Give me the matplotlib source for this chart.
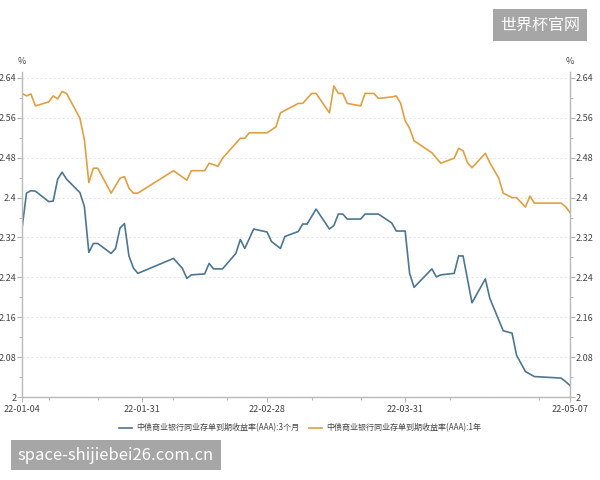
import numpy as np
import pandas as pd
import matplotlib
matplotlib.use("Agg")
import matplotlib.pyplot as plt
import matplotlib.dates as mdates
from matplotlib.ticker import FixedLocator, MultipleLocator

plt.rcParams['font.family'] = ['Noto Sans CJK SC', 'DejaVu Sans']

# 中债商业银行同业存单到期收益率(AAA):1年
dates_1y = ["2022-01-04", "2022-01-05", "2022-01-06", "2022-01-07", "2022-01-10", "2022-01-11",
            "2022-01-12", "2022-01-13", "2022-01-14", "2022-01-17", "2022-01-18", "2022-01-19",
            "2022-01-20", "2022-01-21", "2022-01-24", "2022-01-26", "2022-01-27", "2022-01-28",
            "2022-01-29", "2022-01-30", "2022-02-07", "2022-02-10", "2022-02-11", "2022-02-14",
            "2022-02-15", "2022-02-17", "2022-02-18", "2022-02-22", "2022-02-23", "2022-02-24",
            "2022-02-28", "2022-03-02", "2022-03-03", "2022-03-07", "2022-03-08", "2022-03-10",
            "2022-03-11", "2022-03-14", "2022-03-15", "2022-03-16", "2022-03-17", "2022-03-18",
            "2022-03-21", "2022-03-22", "2022-03-24", "2022-03-25", "2022-03-28", "2022-03-29",
            "2022-03-30", "2022-03-31", "2022-04-01", "2022-04-02", "2022-04-06", "2022-04-08",
            "2022-04-11", "2022-04-12", "2022-04-13", "2022-04-14", "2022-04-15", "2022-04-18",
            "2022-04-19", "2022-04-21", "2022-04-22", "2022-04-24", "2022-04-25", "2022-04-27",
            "2022-04-28", "2022-04-29", "2022-05-05", "2022-05-06", "2022-05-07"]
yield_1y = [2.609, 2.604, 2.608, 2.584, 2.592, 2.604,
            2.598, 2.613, 2.609, 2.559, 2.516, 2.430,
            2.459, 2.459, 2.409, 2.439, 2.442, 2.419,
            2.409, 2.409, 2.454, 2.435, 2.454, 2.454,
            2.469, 2.463, 2.479, 2.519, 2.519, 2.530,
            2.530, 2.542, 2.570, 2.589, 2.589, 2.609,
            2.609, 2.570, 2.624, 2.609, 2.609, 2.589,
            2.584, 2.609, 2.609, 2.599, 2.602, 2.604,
            2.589, 2.554, 2.539, 2.514, 2.490, 2.469,
            2.479, 2.499, 2.494, 2.470, 2.460, 2.489,
            2.470, 2.439, 2.409, 2.400, 2.400, 2.381,
            2.403, 2.389, 2.389, 2.382, 2.370]

# 中债商业银行同业存单到期收益率(AAA):3个月
dates_3m = ["2022-01-04", "2022-01-05", "2022-01-06", "2022-01-07", "2022-01-10", "2022-01-11",
            "2022-01-12", "2022-01-13", "2022-01-14", "2022-01-17", "2022-01-18", "2022-01-19",
            "2022-01-20", "2022-01-21", "2022-01-24", "2022-01-25", "2022-01-26", "2022-01-27",
            "2022-01-28", "2022-01-29", "2022-01-30", "2022-02-07", "2022-02-09", "2022-02-10",
            "2022-02-11", "2022-02-14", "2022-02-15", "2022-02-16", "2022-02-18", "2022-02-21",
            "2022-02-22", "2022-02-23", "2022-02-25", "2022-02-28", "2022-03-01", "2022-03-03",
            "2022-03-04", "2022-03-07", "2022-03-08", "2022-03-09", "2022-03-11", "2022-03-14",
            "2022-03-15", "2022-03-16", "2022-03-17", "2022-03-18", "2022-03-21", "2022-03-22",
            "2022-03-25", "2022-03-28", "2022-03-29", "2022-03-31", "2022-04-01", "2022-04-02",
            "2022-04-06", "2022-04-07", "2022-04-08", "2022-04-11", "2022-04-12", "2022-04-13",
            "2022-04-15", "2022-04-18", "2022-04-19", "2022-04-22", "2022-04-24", "2022-04-25",
            "2022-04-27", "2022-04-29", "2022-05-05", "2022-05-06", "2022-05-07"]
yield_3m = [2.338, 2.409, 2.414, 2.413, 2.392, 2.393,
            2.437, 2.451, 2.437, 2.410, 2.382, 2.290,
            2.308, 2.308, 2.288, 2.298, 2.339, 2.348,
            2.283, 2.259, 2.248, 2.278, 2.258, 2.238,
            2.245, 2.247, 2.268, 2.257, 2.257, 2.288,
            2.316, 2.298, 2.337, 2.331, 2.312, 2.298,
            2.322, 2.332, 2.347, 2.347, 2.377, 2.337,
            2.344, 2.367, 2.367, 2.357, 2.357, 2.367,
            2.367, 2.349, 2.333, 2.333, 2.248, 2.220,
            2.257, 2.241, 2.245, 2.248, 2.283, 2.283,
            2.189, 2.237, 2.198, 2.133, 2.128, 2.084,
            2.051, 2.041, 2.038, 2.031, 2.023]

label_3m = "中债商业银行同业存单到期收益率(AAA):3个月"
label_1y = "中债商业银行同业存单到期收益率(AAA):1年"
major_dates = ["2022-01-04", "2022-01-31", "2022-02-28", "2022-03-31", "2022-05-07"]
minor_dates = ["2022-01-10", "2022-01-21", "2022-02-07", "2022-02-19",
               "2022-03-10", "2022-03-21", "2022-04-10", "2022-04-30"]
y_ticks = [2.0, 2.08, 2.16, 2.24, 2.32, 2.4, 2.48, 2.56, 2.64]
y_ticklabels = ["2", "2.08", "2.16", "2.24", "2.32", "2.4", "2.48", "2.56", "2.64"]

blue = "#4d7691"
orange = "#dfa043"
spine_c = "#b8b8b8"
text_c = "#444444"

fig = plt.figure(figsize=(6, 4.8), dpi=100)
ax = fig.add_axes([0.0367, 0.1729, 0.9133, 0.6771])

x3 = mdates.date2num(pd.to_datetime(dates_3m))
x1 = mdates.date2num(pd.to_datetime(dates_1y))
ax.plot(x3, yield_3m, color=blue, lw=1.2, label=label_3m)
ax.plot(x1, yield_1y, color=orange, lw=1.2, label=label_1y)

xmaj = mdates.date2num(pd.to_datetime(major_dates))
ax.set_xlim(xmaj[0], xmaj[-1])
ax.set_ylim(2.0, 2.652)

ax.xaxis.set_major_locator(FixedLocator(xmaj))
ax.set_xticklabels([d[2:] for d in major_dates])
ax.xaxis.set_minor_locator(FixedLocator(mdates.date2num(pd.to_datetime(minor_dates))))
ax.set_yticks(y_ticks)
ax.set_yticklabels(y_ticklabels)
ax.yaxis.set_minor_locator(MultipleLocator(0.04))

ax.tick_params(axis='both', which='both', colors=spine_c, labelcolor=text_c, labelsize=6.5, width=0.8)
ax.tick_params(axis='both', which='major', length=3.5)
ax.tick_params(axis='both', which='minor', length=2.5)
ax.tick_params(axis='y', which='both', left=True, right=True, labelleft=True, labelright=True, pad=0.5)
ax.tick_params(axis='x', pad=2)

for s in ['left', 'right', 'bottom']:
    ax.spines[s].set_color(spine_c)
    ax.spines[s].set_linewidth(1.0)
ax.spines['top'].set_visible(False)

ax.grid(axis='y', which='major', color='#e8e8e8', lw=0.8, ls=(0, (2, 2)))
ax.set_axisbelow(True)

fig.text(22 / 600, 1 - 61 / 480, "%", fontsize=6.5, color=text_c, ha='center', va='center')
fig.text(570 / 600, 1 - 61 / 480, "%", fontsize=6.5, color=text_c, ha='center', va='center')

fig.legend(loc='center', bbox_to_anchor=(0.5, 1 - 428 / 480), ncol=2, frameon=False,
           fontsize=5.8, handlelength=1.6, columnspacing=1.2, labelcolor=text_c, handletextpad=0.5)

fig.text(0.9, 1 - 25 / 480, "世界杯官网", fontsize=11.5, color='white', ha='center', va='center',
         bbox=dict(boxstyle='square,pad=0.45', fc='#a6a6a6', ec='none'))
fig.text(0.1933, 1 - 455 / 480, "space-shijiebei26.com.cn", fontsize=12, color='white',
         ha='center', va='center', bbox=dict(boxstyle='square,pad=0.4', fc='#a6a6a6', ec='none'))

fig.savefig("out.png", dpi=100, facecolor='white')
